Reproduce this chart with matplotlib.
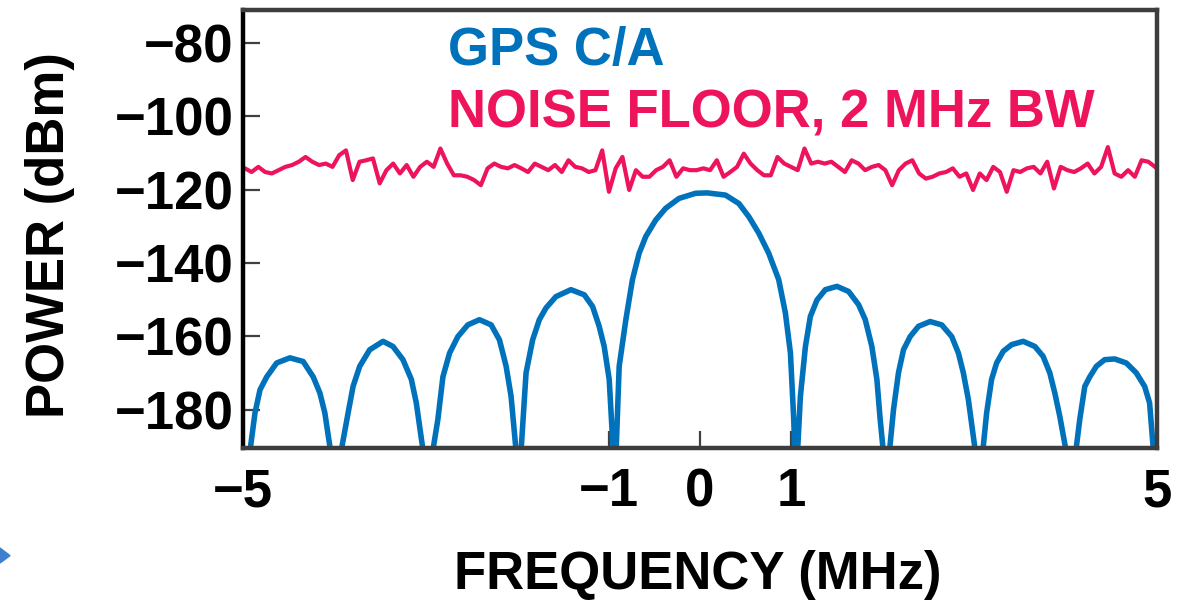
import numpy as np
import matplotlib
matplotlib.use("Agg")
import matplotlib.pyplot as plt
from matplotlib.patches import Polygon

plt.rcParams['font.family'] = ['Liberation Sans', 'DejaVu Sans']
plt.rcParams['font.weight'] = 'bold'

# GPS C/A spectrum (MHz, dBm); -200 marks the nulls
gps_freq = [-4.97,
            -4.869, -4.814, -4.741, -4.632, -4.487, -4.342, -4.232, -4.159, -4.105,
            -3.99,
            -3.850, -3.796, -3.723, -3.614, -3.468, -3.359, -3.250, -3.158, -3.104,
            -2.98,
            -2.868, -2.813, -2.740, -2.649, -2.540, -2.413, -2.285, -2.194, -2.121, -2.067,
            -1.98,
            -1.903, -1.831, -1.758, -1.685, -1.576, -1.412, -1.266, -1.175, -1.103, -1.048, -0.993,
            -0.93,
            -0.884, -0.811, -0.739, -0.666, -0.593, -0.484, -0.375, -0.229, -0.047, 0.080,
            0.280, 0.426, 0.535, 0.644, 0.753, 0.862, 0.935, 0.990, 1.026,
            1.05,
            1.099, 1.154, 1.208, 1.281, 1.372, 1.499, 1.627, 1.736, 1.809, 1.881, 1.936, 1.972,
            2.04,
            2.118, 2.172, 2.227, 2.300, 2.391, 2.518, 2.645, 2.755, 2.828, 2.882, 2.937,
            3.06,
            3.137, 3.191, 3.246, 3.319, 3.410, 3.537, 3.665, 3.755, 3.828, 3.883, 3.937,
            4.07,
            4.156, 4.211, 4.265, 4.338, 4.429, 4.538, 4.665, 4.774, 4.866, 4.920,
            4.99]
gps_power = [-200,
             -180.9, -174.6, -171.1, -167.3, -165.9, -166.9, -171.1, -175.5, -180.9,
             -200,
             -180.9, -173.7, -168.2, -163.7, -161.4, -162.8, -166.4, -171.8, -178.2,
             -200,
             -182.7, -171.1, -164.6, -160.1, -156.9, -155.5, -156.9, -161.0, -168.2, -176.4,
             -200,
             -170.0, -161.0, -155.5, -152.3, -149.2, -147.3, -148.7, -151.9, -157.3, -162.8, -171.8,
             -200,
             -168.2, -155.5, -144.6, -137.4, -132.8, -128.3, -125.1, -122.4, -121.0, -120.9,
             -121.5, -123.8, -127.4, -131.9, -137.4, -144.6, -153.7, -164.6, -182.7,
             -200,
             -176.4, -162.8, -154.6, -150.1, -147.3, -146.4, -147.8, -151.4, -155.5, -162.8, -171.8, -182.7,
             -200,
             -180.0, -170.0, -163.7, -160.1, -157.3, -156.0, -156.9, -160.1, -164.6, -170.0, -177.3,
             -200,
             -180.9, -171.8, -167.3, -164.1, -162.3, -161.4, -162.8, -165.5, -170.0, -175.5, -181.8,
             -200,
             -182.7, -173.7, -171.1, -168.2, -166.4, -166.2, -167.3, -170.0, -173.7, -178.2,
             -200]

# noise floor samples, read left to right across the plot (dBm)
noise_power = [-114.2, -115.2, -113.8, -115.2, -115.6, -114.7, -113.8, -113.3, -112.4, -111.1,
               -112.4, -113.3, -112.9, -113.8, -110.6, -109.3, -117.4, -112.4, -112.0, -111.5,
               -118.3, -114.7, -112.9, -115.6, -113.3, -116.5, -113.8, -112.4, -113.8, -108.8,
               -112.9, -116.1, -116.1, -116.5, -117.4, -118.8, -114.2, -112.9, -113.8, -114.2,
               -113.3, -114.2, -115.2, -112.9, -113.8, -114.7, -113.3, -115.2, -112.0, -113.8,
               -114.2, -115.2, -114.7, -109.3, -120.6, -114.2, -111.1, -120.1, -114.7, -116.5,
               -116.5, -114.7, -113.8, -112.0, -116.5, -114.2, -114.7, -114.7,
               -114.2, -114.7, -112.0, -116.5, -115.2, -113.8, -110.2, -112.9, -114.7, -116.1,
               -116.1, -111.1, -112.9, -113.8, -114.7, -108.8, -112.9, -112.4, -112.9, -112.4,
               -113.8, -115.2, -112.0, -112.9, -114.7, -113.8, -113.3, -114.7, -118.8, -114.7,
               -112.9, -112.0, -115.6, -117.0, -116.5, -115.6, -115.2, -114.2, -116.5, -115.6,
               -120.1, -115.6, -117.4, -113.8, -115.2, -120.6, -114.7, -115.2, -114.2, -113.8,
               -115.6, -112.4, -119.7, -113.8, -114.7, -115.2, -114.2, -112.9, -115.6, -113.8,
               -108.4, -115.6, -116.5, -114.7, -116.5, -112.0, -112.4, -113.8]
noise_freq = np.linspace(-4.98, 4.98, len(noise_power))

x_ticks = [-5, -1, 0, 1, 5]
y_ticks = [-180, -160, -140, -120, -100, -80]

blue = '#0072BC'
pink = '#ED145B'

fig = plt.figure(figsize=(11.89, 6.02), dpi=100)
ax = fig.add_axes([0.2044, 0.2558, 0.7686, 0.7276])

ax.plot(noise_freq, noise_power, color=pink, lw=3.0)
ax.plot(gps_freq, gps_power, color=blue, lw=4.0)

ax.set_xlim(-5, 5)
ax.set_ylim(-190.5, -71)
ax.set_xticks(x_ticks)
ax.set_yticks(y_ticks)
ax.tick_params(direction='in', length=12, width=1.6, color='#404040',
               labelsize=38, labelcolor='black')
ax.tick_params(axis='y', pad=7)
ax.tick_params(axis='x', pad=14)
for lab in ax.get_xticklabels() + ax.get_yticklabels():
    lab.set_fontweight('bold')

for side in ['top', 'right', 'bottom']:
    ax.spines[side].set_color('#3d3d3d')
    ax.spines[side].set_linewidth(3.2)
ax.spines['left'].set_color('black')
ax.spines['left'].set_linewidth(3.2)

ax.text(0.224, 0.874, 'GPS C/A', transform=ax.transAxes, color=blue,
        fontsize=38, fontweight='bold', va='baseline')
ax.text(0.224, 0.731, 'NOISE FLOOR, 2 MHz BW', transform=ax.transAxes, color=pink,
        fontsize=38, fontweight='bold', va='baseline')

fig.text(0.042, 0.61, 'POWER (dBm)', rotation=90, ha='center', va='center',
         fontsize=38, fontweight='bold')
fig.text(0.587, 0.045, 'FREQUENCY (MHz)', ha='center', va='center',
         fontsize=38, fontweight='bold')

# small blue arrow head at the lower left edge
fig.add_artist(Polygon([[0, 0.0897], [0, 0.0648], [0.0084, 0.077]], closed=True,
                       transform=fig.transFigure, color='#3f7fcf'))

fig.savefig('out.png', dpi=100)
